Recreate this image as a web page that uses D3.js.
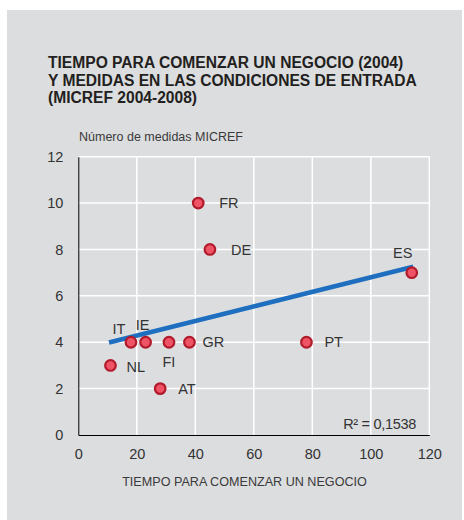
<!DOCTYPE html>
<html><head><meta charset="utf-8">
<script src="https://cdn.jsdelivr.net/npm/d3@7"></script>
<style>
html,body{margin:0;padding:0;background:#fff;}
text{font-family:"Liberation Sans",Arial,Helvetica,sans-serif;}
</style></head>
<body>
<svg id="chart" width="464" height="520"></svg>
<script>
// ---- data ----
const countries = ["FR","DE","ES","PT","IT","IE","FI","GR","NL","AT"];
const daysToStart = [41, 45, 114, 78, 18, 23, 31, 38, 11, 28];
const micrefMeasures = [10, 8, 7, 4, 4, 4, 4, 4, 3, 2];
const xTicks = [0, 20, 40, 60, 80, 100, 120];
const yTicks = [0, 2, 4, 6, 8, 10, 12];
const titleLines = ["TIEMPO PARA COMENZAR UN NEGOCIO (2004)",
                    "Y MEDIDAS EN LAS CONDICIONES DE ENTRADA",
                    "(MICREF 2004-2008)"];
const xTitle = "TIEMPO PARA COMENZAR UN NEGOCIO";
const yTitle = "Número de medidas MICREF";
const r2Label = "R\u00B2 = 0,1538";
const trendDomain = [10.5, 114.5];

// label placement (layout, not data)
const labelPos = {
  FR:{dx:21,dy:0,anchor:"start"}, DE:{dx:21,dy:0,anchor:"start"},
  ES:{dx:-9,dy:-20,anchor:"middle"}, PT:{dx:18,dy:0,anchor:"start"},
  IT:{dx:-12,dy:-13,anchor:"middle"}, IE:{dx:-3,dy:-17,anchor:"middle"},
  FI:{dx:0,dy:20,anchor:"middle"}, GR:{dx:13,dy:0,anchor:"start"},
  NL:{dx:16,dy:1,anchor:"start"}, AT:{dx:18,dy:0,anchor:"start"}
};

const svg = d3.select("#chart");
svg.append("rect").attr("x",7).attr("y",10).attr("width",455).attr("height",510).attr("fill","#dcdddf");

// title
svg.append("g").selectAll("text").data(titleLines).join("text")
  .attr("x",48).attr("y",(d,i)=>68+i*17.5)
  .attr("font-size",15.6).attr("font-weight","bold").attr("fill","#231f20")
  .text(d=>d);

const x = d3.scaleLinear().domain([0,120]).range([78.3,429.3]);
const y = d3.scaleLinear().domain([0,12]).range([435,156.7]);

// grid
const grid = svg.append("g");
grid.selectAll(".vg").data(xTicks.filter(d=>d>0)).join("line")
  .attr("x1",d=>x(d)).attr("x2",d=>x(d)).attr("y1",y(0)).attr("y2",y(12))
  .attr("stroke","#fff").attr("stroke-width",1.5);
grid.selectAll(".hg").data(yTicks.filter(d=>d>0)).join("line")
  .attr("x1",x(0)).attr("x2",x(120)).attr("y1",d=>y(d)).attr("y2",d=>y(d))
  .attr("stroke","#fff").attr("stroke-width",1.5);

// axes
const xAxis = svg.append("g").attr("transform",`translate(0,${y(0)})`)
  .call(d3.axisBottom(x).tickValues(xTicks).tickSize(0).tickPadding(14).tickFormat(d3.format("d")));
const yAxis = svg.append("g").attr("transform",`translate(${x(0)},0)`)
  .call(d3.axisLeft(y).tickValues(yTicks).tickSize(0).tickPadding(15).tickFormat(d3.format("d")));
[xAxis,yAxis].forEach(a=>{
  a.select(".domain").attr("stroke","#000").attr("stroke-width",1);
  a.selectAll("text").attr("font-size",14.5).attr("fill","#333")
   .attr("font-family","'Liberation Sans',Arial,sans-serif");
});

// axis titles
svg.append("text").attr("x",244.5).attr("y",486).attr("text-anchor","middle")
  .attr("font-size",12.6).attr("fill","#3a3a3a").text(xTitle);
svg.append("text").attr("x",79).attr("y",141)
  .attr("font-size",12.5).attr("fill","#3a3a3a").text(yTitle);

// trend line (least squares from data)
const n = daysToStart.length;
const mx = d3.mean(daysToStart), my = d3.mean(micrefMeasures);
let sxy=0,sxx=0;
for(let i=0;i<n;i++){sxy+=(daysToStart[i]-mx)*(micrefMeasures[i]-my);sxx+=(daysToStart[i]-mx)**2;}
const slope = sxy/sxx, intercept = my - slope*mx;
svg.append("path")
  .datum(trendDomain.map(v=>[v, intercept+slope*v]))
  .attr("d", d3.line().x(d=>x(d[0])).y(d=>y(d[1])))
  .attr("stroke","#1f6fc0").attr("stroke-width",4.5).attr("fill","none");

// points
const pts = countries.map((c,i)=>({c, x:daysToStart[i], y:micrefMeasures[i]}));
svg.append("g").selectAll("circle").data(pts).join("circle")
  .attr("cx",d=>x(d.x)).attr("cy",d=>y(d.y)).attr("r",5.3)
  .attr("fill","#ef5466").attr("stroke","#b11b2b").attr("stroke-width",2.2);

// labels
svg.append("g").selectAll("text").data(pts).join("text")
  .attr("x",d=>x(d.x)+labelPos[d.c].dx).attr("y",d=>y(d.y)+labelPos[d.c].dy)
  .attr("dy","0.36em").attr("text-anchor",d=>labelPos[d.c].anchor)
  .attr("font-size",14.5).attr("fill","#333").text(d=>d.c);

// R2
svg.append("text").attr("x",416).attr("y",428.5).attr("text-anchor","end")
  .attr("font-size",14.5).attr("fill","#333").attr("letter-spacing",-0.3).text(r2Label);
</script>
</body></html>
